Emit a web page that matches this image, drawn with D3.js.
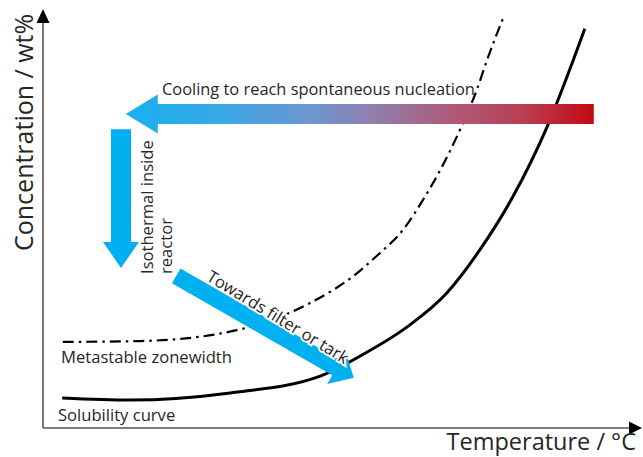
<!DOCTYPE html>
<html>
<head>
<meta charset="utf-8">
<script src="https://cdn.jsdelivr.net/npm/d3@7"></script>
<style>
  html, body { margin: 0; padding: 0; background: #fff; }
  svg { display: block; }
  text { font-family: "Open Sans", "Noto Sans", sans-serif; fill: #262626; }
</style>
</head>
<body>
<svg id="chart" width="643" height="457"></svg>
<script>
// ---- data (conceptual units: temperature 0-100, concentration 0-100) ----
const solubilityT = [3.2, 14.5, 31.2, 46.2, 53.7, 60.7, 67.3, 72.8, 78.3, 84.0, 90.3];
const solubilityC = [7.2, 6.7, 8.4, 12.4, 17.9, 24.2, 32.3, 42.6, 55.3, 72.0, 95.5];
const metastableT = [3.3, 16.2, 32.3, 44.5, 51.5, 55.8, 60.0, 63.3, 66.2, 69.7, 72.3, 74.0, 76.7];
const metastableC = [20.6, 20.8, 23.4, 29.9, 36.1, 41.4, 47.4, 54.5, 61.7, 72.0, 80.9, 88.0, 98.1];

const axisLabels = ["Temperature / °C", "Concentration / wt%"];
const curveLabels = ["Metastable zonewidth", "Solubility curve"];
const arrowLabels = ["Cooling to reach spontaneous nucleation", "Isothermal inside", "reactor", "Towards filter or tark"];

// arrow endpoints (tail -> tip) in data units
const coolingArrow = { from: [91.8, 75.1], to: [13.8, 75.1] };
const isothermArrow = { from: [13.0, 71.5], to: [13.0, 38.3] };
const filterArrow = { from: [22.2, 36.4], to: [51.8, 12.0] };

// ---- scales ----
const x = d3.scaleLinear().domain([0, 100]).range([43, 643]);
const y = d3.scaleLinear().domain([0, 100]).range([428, 10]);

const svg = d3.select("#chart");
const defs = svg.append("defs");

// gradient for cooling arrow (tail = red, tip = blue), in arrow's local box
const grad = defs.append("linearGradient").attr("id", "coolGrad")
  .attr("x1", "0%").attr("x2", "100%").attr("y1", "0%").attr("y2", "0%");
[[0, "#c20a12"], [0.15, "#b93e52"], [0.3, "#ae5a78"], [0.48, "#8e80b0"], [0.6, "#6f95cf"], [0.8, "#38a8e6"], [1, "#17b0f0"]]
  .forEach(([o, c]) => grad.append("stop").attr("offset", o).attr("stop-color", c));

// ---- axes ----
const axisColor = "#555";
svg.append("line").attr("x1", x(0)).attr("y1", y(0)).attr("x2", x(0)).attr("y2", y(100) + 10)
  .attr("stroke", axisColor).attr("stroke-width", 1.6);
svg.append("line").attr("x1", x(0)).attr("y1", y(0)).attr("x2", x(100) - 10).attr("y2", y(0))
  .attr("stroke", axisColor).attr("stroke-width", 1.6);
// arrowheads
svg.append("path")
  .attr("d", `M${x(0)},${y(100) - 1} L${x(0) - 6.5},${y(100) + 13} L${x(0) + 6.5},${y(100) + 13} Z`)
  .attr("fill", "#000");
svg.append("path")
  .attr("d", `M${x(100) - 1},${y(0)} L${x(100) - 14},${y(0) - 6.5} L${x(100) - 14},${y(0) + 6.5} Z`)
  .attr("fill", "#000");

svg.append("text").attr("x", 636).attr("y", 450).attr("text-anchor", "end")
  .style("font-size", "23.5px").text(axisLabels[0]);
svg.append("text").attr("transform", "translate(33,251) rotate(-90)")
  .style("font-size", "25px").text(axisLabels[1]);

// ---- curves ----
const line = d3.line().x(d => x(d[0])).y(d => y(d[1])).curve(d3.curveMonotoneX);
svg.append("path").datum(d3.zip(solubilityT, solubilityC))
  .attr("d", line).attr("fill", "none").attr("stroke", "#000").attr("stroke-width", 3);
svg.append("path").datum(d3.zip(metastableT, metastableC))
  .attr("d", line).attr("fill", "none").attr("stroke", "#000").attr("stroke-width", 2.2)
  .attr("stroke-dasharray", "11,5,2.5,5");

svg.append("text").attr("x", 61).attr("y", 363).style("font-size", "16.6px").text(curveLabels[0]);
svg.append("text").attr("x", 58).attr("y", 421).style("font-size", "16.6px").text(curveLabels[1]);

// ---- arrows ----
function arrow(a, bodyW, headW, headL, fill) {
  const x0 = x(a.from[0]), y0 = y(a.from[1]), x1 = x(a.to[0]), y1 = y(a.to[1]);
  const len = Math.hypot(x1 - x0, y1 - y0);
  const ang = Math.atan2(y1 - y0, x1 - x0) * 180 / Math.PI;
  const b = bodyW / 2, h = headW / 2, L = len - headL;
  const d = `M0,${-b} L${L},${-b} L${L},${-h} L${len},0 L${L},${h} L${L},${b} L0,${b} Z`;
  const g = svg.append("g").attr("transform", `translate(${x0},${y0}) rotate(${ang})`);
  g.append("path").attr("d", d).attr("fill", fill);
  return { g, ang, x0, y0 };
}

arrow(coolingArrow, 20, 39, 32, "url(#coolGrad)");
arrow(isothermArrow, 20, 36, 26, "#00b0f0");
const fa = arrow(filterArrow, 17, 37, 20, "#00b0f0");

svg.append("text").attr("x", 162).attr("y", 95).style("font-size", "16.4px").text(arrowLabels[0]);

svg.append("text").attr("transform", "translate(153,274) rotate(-90)")
  .style("font-size", "16.6px").text(arrowLabels[1]);
svg.append("text").attr("transform", "translate(172,274) rotate(-90)")
  .style("font-size", "16.6px").text(arrowLabels[2]);

fa.g.append("text").attr("x", 27).attr("y", -12)
  .attr("transform", "rotate(1.5)")
  .style("font-size", "16.6px")
  .attr("stroke", "#fff").attr("stroke-width", 4).attr("paint-order", "stroke")
  .text(arrowLabels[3]);
</script>
</body>
</html>
